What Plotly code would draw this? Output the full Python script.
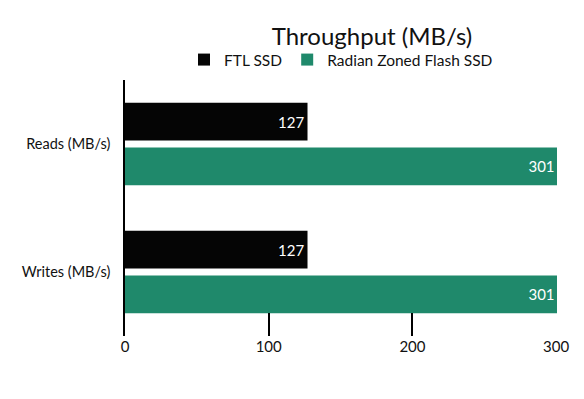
import plotly.graph_objects as go

categories = ["Reads (MB/s)", "Writes (MB/s)"]
ftl_values = [127, 127]
radian_values = [301, 301]
series_names = ["FTL SSD", "Radian Zoned Flash SSD"]
x_ticks = [0, 100, 200, 300]

FONT = "Lato, 'Open Sans', sans-serif"
BLACK = "#050505"
GREEN = "#1F896B"

# page body has an ~8px margin; figure sized to fit inside the window
W, H = 568, 382
OFF = 8

fig = go.Figure()
for name, vals, col in [(series_names[0], ftl_values, BLACK),
                        (series_names[1], radian_values, GREEN)]:
    fig.add_trace(go.Bar(
        y=categories, x=vals, name=name, orientation="h",
        marker=dict(color=col, line=dict(width=0)),
        text=[str(v) for v in vals], textposition="inside",
        insidetextanchor="end",
        textfont=dict(color="white", size=15, family=FONT),
    ))

fig.update_layout(
    width=W, height=H,
    margin=dict(l=125 - OFF, r=(W + OFF) - 557, t=80 - OFF, b=(H + OFF) - 336),
    paper_bgcolor="white", plot_bgcolor="white",
    font=dict(family=FONT, color="#111111", size=15),
    barmode="group", bargap=0.3, bargroupgap=0.155,
    title=dict(text="Throughput (MB/s)", x=(372 - OFF) / W, xanchor="center",
               y=1 - (37 - OFF) / H, yanchor="middle",
               font=dict(size=24, family=FONT, color="#111111")),
    legend=dict(orientation="h", x=0.5, xanchor="center",
                y=1 + 20 / 256, yanchor="middle",
                font=dict(size=15.5, family=FONT),
                itemwidth=30, tracegroupgap=0),
    showlegend=True,
)
fig.update_xaxes(range=[0, 300.6], tickvals=x_ticks,
                 ticktext=[str(t) for t in x_ticks], automargin=False,
                 showgrid=False, zeroline=False, showline=False,
                 ticks="inside", ticklen=23, tickwidth=1.5, tickcolor="black",
                 tickfont=dict(size=15, family=FONT, color="#111111"))
fig.update_yaxes(autorange="reversed", showgrid=False, zeroline=False,
                 showline=True, linecolor="black", linewidth=1.5,
                 ticks="", ticklabelstandoff=10, automargin=False,
                 tickfont=dict(size=14.5, family=FONT, color="#111111"))

fig.write_html("out.html")
